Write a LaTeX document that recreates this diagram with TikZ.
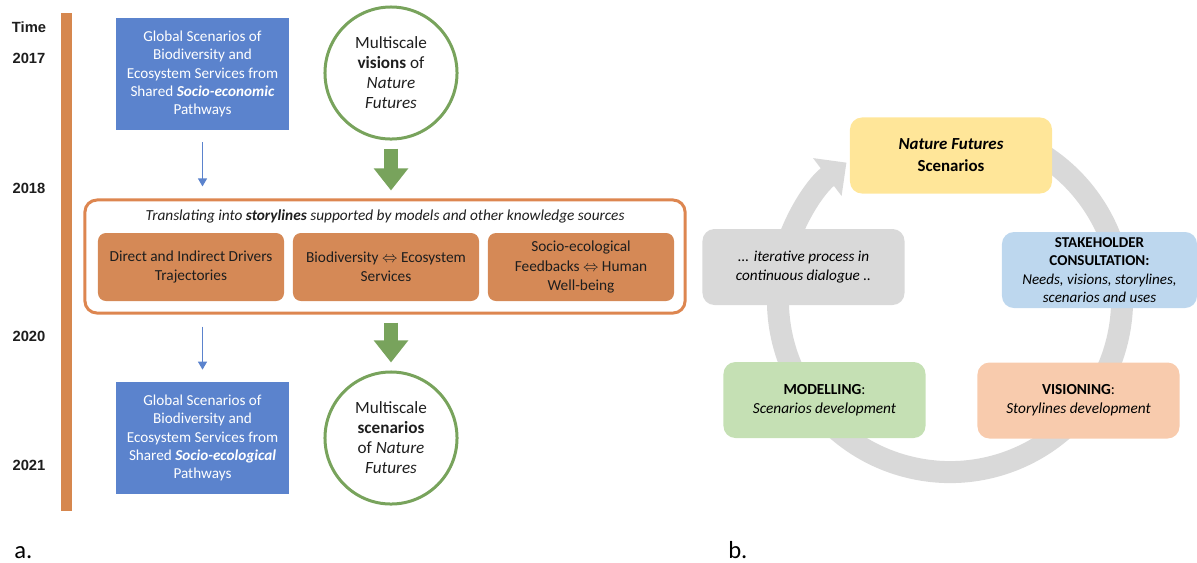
\documentclass[tikz,border=0pt]{standalone}
\usepackage{fontspec}
\setmainfont{Carlito}
\newfontfamily\yearfont{Liberation Sans}
\usepackage{xcolor}
\usetikzlibrary{arrows.meta,positioning}

\definecolor{gsblue}{RGB}{91,131,205}
\definecolor{timeorange}{RGB}{214,135,78}
\definecolor{boxorange}{RGB}{213,137,86}
\definecolor{lineorange}{RGB}{221,134,80}
\definecolor{nfgreen}{RGB}{120,163,92}
\definecolor{ringgray}{RGB}{217,217,217}
\definecolor{nfyellow}{RGB}{255,230,153}
\definecolor{stakeblue}{RGB}{189,215,238}
\definecolor{modelgreen}{RGB}{197,224,180}
\definecolor{visionorange}{RGB}{248,203,173}
\definecolor{darktext}{RGB}{30,30,30}

\begin{document}
\begin{tikzpicture}[
    x=0.025cm, y=-0.025cm,
    year/.style={font=\yearfont\bfseries\fontsize{10.5}{12}\selectfont, text=darktext},
    gsbox/.style={
      rectangle,
      fill=gsblue,
      text=white,
      minimum width=4.325cm,
      minimum height=2.8cm,
      inner sep=0pt,
      align=center,
      font=\fontsize{10.8}{13.1}\selectfont
    },
    nfcirc/.style={
      circle,
      draw=nfgreen,
      line width=0.075cm,
      minimum size=3.3cm,
      inner sep=0pt,
      align=center,
      text=darktext,
      font=\fontsize{12.2}{14.2}\selectfont
    },
    trackbox/.style={
      rectangle,
      rounded corners=0.2cm,
      fill=boxorange,
      minimum width=4.65cm,
      minimum height=1.7cm,
      inner sep=0pt,
      align=center,
      text=darktext,
      font=\fontsize{10.9}{13.8}\selectfont
    },
    stagebox/.style={
      rectangle,
      rounded corners=0.3cm,
      minimum width=5.05cm,
      minimum height=1.9cm,
      inner sep=0pt,
      align=center,
      text=black,
      font=\fontsize{10.7}{13.1}\selectfont
    },
    thinarrow/.style={-{Triangle[width=0.22cm,length=0.2cm]}, gsblue, line width=0.04cm, shorten <=0.3cm, shorten >=0.3cm},
    bigarrow/.style={-{Triangle[width=0.825cm,length=0.55cm]}, nfgreen, line width=0.35cm, shorten <=0.2cm, shorten >=0.2cm}
  ]
    \useasboundingbox (0,0) rectangle (1197,562);

    % Time line (left)
    \fill[timeorange] (61,13) rectangle (72,511);
    \node[year] (tTime) at (29,27) {Time};
    \node[year] (t2017) at (29,58) {2017};
    \node[year] (t2018) at (29,188) {2018};
    \node[year] (t2020) at (29,336) {2020};
    \node[year] (t2021) at (29,465) {2021};

    % Global scenarios boxes
    \node[gsbox] (gs1) at (202.5,74) {Global Scenarios of\\Biodiversity and\\Ecosystem Services from\\Shared \textbf{\textit{Socio-economic}}\\Pathways};
    \node[gsbox] (gs2) at (202.5,438) {Global Scenarios of\\Biodiversity and\\Ecosystem Services from\\Shared \textbf{\textit{Socio-ecological}}\\Pathways};

    % Nature Futures circles
    \node[nfcirc] (vis) at (391,73) {Multiscale\\\textbf{visions} of\\\textit{Nature}\\\textit{Futures}};
    \node[nfcirc] (scen) at (391,438) {Multiscale\\\textbf{scenarios}\\of \textit{Nature}\\\textit{Futures}};

    % Storylines frame
    \node[draw=lineorange, line width=0.075cm, rounded corners=0.3cm, minimum width=15cm, minimum height=2.825cm] (story) at (385,256.5) {};
    \node[font=\itshape\fontsize{10.9}{12}\selectfont, text=darktext] (storyhead) at (385,216) {Translating into \textbf{storylines} supported by models and other knowledge sources};
    \node[trackbox] (drv) at (191,267) {Direct and Indirect Drivers\\Trajectories};
    \node[trackbox] (bio) at (386,267) {Biodiversity $\Leftrightarrow$ Ecosystem\\Services};
    \node[trackbox] (fbk) at (581,267) {Socio-ecological\\Feedbacks $\Leftrightarrow$ Human\\Well-being};

    % Arrows between time steps
    \draw[thinarrow] (gs1.south) -- (gs1.south |- story.north);
    \draw[thinarrow] (gs1.south |- story.south) -- (gs2.north);
    \draw[bigarrow] (vis.south) -- (vis.south |- story.north);
    \draw[bigarrow] (scen.north |- story.south) -- (scen.north);

    % Iterative cycle (right)
    \draw[ringgray, line width=0.55cm, -{Triangle[width=1.15cm,length=0.6cm]}]
      (950,300) ++(75:4.3cm) arc[start angle=75, end angle=-233, radius=4.3cm];

    \node[stagebox, fill=nfyellow, font=\fontsize{12}{15.6}\selectfont] (nf) at (951,155.5) {\textbf{\textit{Nature Futures}}\\\textbf{Scenarios}};
    \node[stagebox, fill=ringgray, font=\itshape\fontsize{10.8}{13}\selectfont] (iter) at (803.5,267) {... iterative process in\\continuous dialogue ..};
    \node[stagebox, fill=stakeblue, minimum width=4.875cm] (stake) at (1099.5,270) {\textbf{STAKEHOLDER}\\\textbf{CONSULTATION:}\\\textit{Needs, visions, storylines,}\\\textit{scenarios and uses}};
    \node[stagebox, fill=modelgreen, font=\fontsize{10.9}{13.5}\selectfont] (model) at (824.5,400) {\textbf{MODELLING}:\\\textit{Scenarios development}};
    \node[stagebox, fill=visionorange, font=\fontsize{10.9}{13.5}\selectfont] (vision) at (1078.5,400.5) {\textbf{VISIONING}:\\\textit{Storylines development}};

    % Panel labels
    \node[anchor=base west, font=\fontsize{17.5}{20}\selectfont, inner sep=0pt] (labA) at (14,558) {a.};
    \node[anchor=base west, font=\fontsize{17.5}{20}\selectfont, inner sep=0pt] (labB) at (728,558) {b.};

  \end{tikzpicture}
\end{document}
